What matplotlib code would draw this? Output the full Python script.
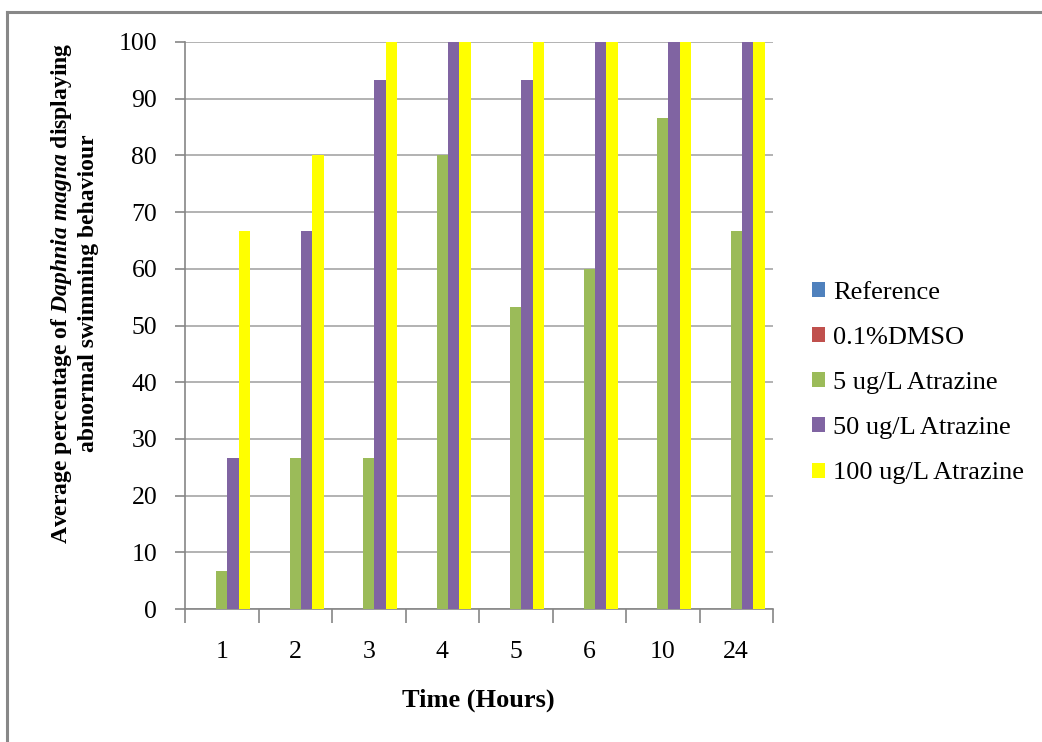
import matplotlib
matplotlib.use("Agg")
import matplotlib.pyplot as plt
from matplotlib.patches import Patch
from matplotlib.lines import Line2D
import numpy as np

plt.rcParams['font.family'] = ['Liberation Serif', 'DejaVu Serif']
plt.rcParams['mathtext.fontset'] = 'custom'
plt.rcParams['mathtext.rm'] = 'Liberation Serif:bold'
plt.rcParams['mathtext.it'] = 'Liberation Serif:italic:bold'
plt.rcParams['mathtext.bf'] = 'Liberation Serif:bold'

categories = ["1", "2", "3", "4", "5", "6", "10", "24"]
series_names = ["Reference", "0.1%DMSO", "5 ug/L Atrazine", "50 ug/L Atrazine", "100 ug/L Atrazine"]
reference = [0, 0, 0, 0, 0, 0, 0, 0]
dmso = [0, 0, 0, 0, 0, 0, 0, 0]
atrazine_5 = [6.67, 26.67, 26.67, 80, 53.33, 60, 86.67, 66.67]
atrazine_50 = [26.67, 66.67, 93.33, 100, 93.33, 100, 100, 100]
atrazine_100 = [66.67, 80, 100, 100, 100, 100, 100, 100]
colors = ["#4F81BD", "#C0504D", "#9BBB59", "#8064A2", "#FFFF00"]

W, H = 1042, 742
fig = plt.figure(figsize=(W / 100, H / 100), dpi=100)
ax = fig.add_axes([185 / W, 1 - 609 / H, (773 - 185) / W, (609 - 42) / H])

x = np.arange(len(categories))
bw = 0.155
data = [reference, dmso, atrazine_5, atrazine_50, atrazine_100]
for i, (vals, c) in enumerate(zip(data, colors)):
    ax.bar(x + (i - 2) * bw, vals, width=bw, color=c, edgecolor='none', zorder=3)

ax.set_xlim(-0.5, len(categories) - 0.5)
ax.set_ylim(0, 100)
ax.set_yticks(np.arange(0, 101, 10))
ax.yaxis.grid(True, color="#A6A6A6", linewidth=1.2, zorder=0)
ax.set_xticks(x)
ax.set_xticklabels(categories)
ax.set_xticks(np.arange(-0.5, len(categories), 1.0), minor=True)
ax.tick_params(axis='x', which='major', length=0, pad=23, labelsize=18.5)
ax.tick_params(axis='x', which='minor', length=10, color="#868686", width=1.2, direction='out')
ax.tick_params(axis='y', length=7, color="#868686", width=1.2, direction='out', pad=13, labelsize=18.5)
for s in ['top', 'right']:
    ax.spines[s].set_visible(False)
for s in ['left', 'bottom']:
    ax.spines[s].set_color("#868686")
    ax.spines[s].set_linewidth(1.2)

fig.text(478 / W, 1 - 700 / H, "Time (Hours)", ha='center', va='center',
         fontsize=19, fontweight='bold')
fig.text(74 / W, 1 - 293 / H,
         "Average percentage of $\\mathit{Daphnia\\ magna}$ displaying\nabnormal swimming behaviour",
         ha='center', va='center', rotation=90, fontsize=17, fontweight='bold',
         multialignment='center', linespacing=1.2)

handles = [Patch(facecolor=c, edgecolor='none') for c in colors]
fig.legend(handles, series_names, loc='center left', bbox_to_anchor=(799 / W, 1 - 383 / H),
           frameon=False, fontsize=19, handlelength=0.5, handleheight=0.5,
           handletextpad=0.3, labelspacing=0.88, borderpad=0)

fig.add_artist(Line2D([6.5 / W, 6.5 / W], [0, 1 - 12 / H], color="#888888", lw=2.2, transform=fig.transFigure))
fig.add_artist(Line2D([6.5 / W, 1], [1 - 12 / H, 1 - 12 / H], color="#888888", lw=2.2, transform=fig.transFigure))

fig.savefig("out.png", dpi=100)
